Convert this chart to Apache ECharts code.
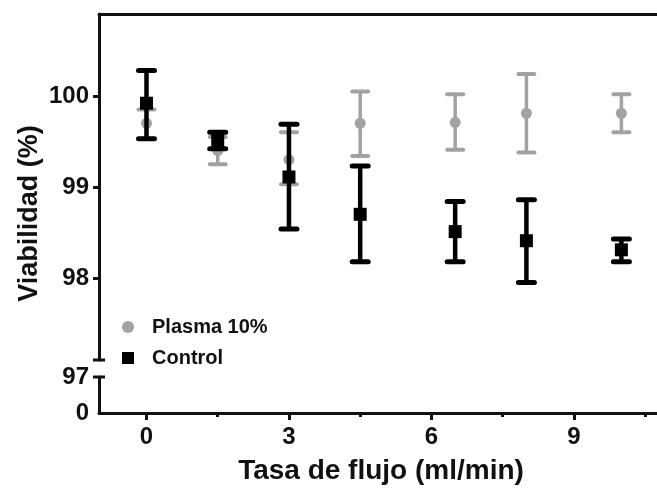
<!DOCTYPE html>
<html><head><meta charset="utf-8">
<script src="https://cdn.jsdelivr.net/npm/echarts@6/dist/echarts.min.js"></script>
<style>html,body{margin:0;padding:0;background:#fff}#c{width:657px;height:489px}</style>
</head><body><div id="c"></div>
<script>
const flowRates   = [0, 1.5, 3, 4.5, 6.5, 8, 10];
const plasmaMean  = [99.70, 99.40, 99.30, 99.70, 99.71, 99.81, 99.81];
const plasmaLow   = [99.53, 99.25, 99.03, 99.34, 99.41, 99.38, 99.60];
const plasmaHigh  = [99.85, 99.55, 99.60, 100.05, 100.02, 100.24, 100.02];
const controlMean = [99.92, 99.51, 99.11, 98.70, 98.51, 98.41, 98.31];
const controlLow  = [99.53, 99.42, 98.54, 98.18, 98.18, 97.95, 98.18];
const controlHigh = [100.28, 99.60, 99.69, 99.23, 98.84, 98.86, 98.43];
const xTicks      = [0, 3, 6, 9];
const xMinorTicks = [1.5, 4.5, 7.5, 10.5];
const yTicksUpper = [98, 99, 100];
const yTicksLower = [0, 97];
const seriesNames = ['Plasma 10%', 'Control'];
const xTitle = 'Tasa de flujo (ml/min)';
const yTitle = 'Viabilidad (%)';

const FONT = '"Liberation Sans", Arial, sans-serif';
const INK = '#111';
const GREY = '#a2a2a2';
const XMIN = -1, XMAX = 10.75;

function errorRender(color, lw, capW, capLw) {
  return function (params, api) {
    const x = api.value(0), lo = api.value(1), hi = api.value(2);
    const pLo = api.coord([x, lo]), pHi = api.coord([x, hi]);
    return {
      type: 'group',
      children: [
        {type: 'line', shape: {x1: pLo[0], y1: pLo[1], x2: pHi[0], y2: pHi[1]}, style: {stroke: color, lineWidth: lw}},
        {type: 'line', shape: {x1: pLo[0] - capW, y1: pLo[1], x2: pLo[0] + capW, y2: pLo[1]}, style: {stroke: color, lineWidth: capLw, lineCap: 'round'}},
        {type: 'line', shape: {x1: pHi[0] - capW, y1: pHi[1], x2: pHi[0] + capW, y2: pHi[1]}, style: {stroke: color, lineWidth: capLw, lineCap: 'round'}}
      ]
    };
  };
}

const chart = echarts.init(document.getElementById('c'), null, {renderer: 'canvas'});
const axisLineStyle = {color: INK, width: 3};
const labelStyle = {color: INK, fontFamily: FONT, fontWeight: 'bold', fontSize: 24};

const option = {
  animation: false,
  backgroundColor: '#fff',
  grid: [
    {left: 99, right: 0, top: 14, height: 346},
    {left: 99, right: 0, top: 377, height: 36}
  ],
  xAxis: [
    {type: 'value', gridIndex: 0, min: XMIN, max: XMAX, position: 'top',
     axisLine: {show: true, onZero: false, lineStyle: axisLineStyle},
     axisTick: {show: false}, axisLabel: {show: false}, splitLine: {show: false}},
    {type: 'value', gridIndex: 1, min: XMIN, max: XMAX, position: 'bottom',
     name: xTitle, nameLocation: 'middle', nameGap: 44,
     nameTextStyle: {color: INK, fontFamily: FONT, fontWeight: 'bold', fontSize: 28, padding: [0, 0, 0, 6]},
     axisLine: {show: true, onZero: false, lineStyle: axisLineStyle},
     axisTick: {show: true, customValues: xTicks, length: 7, lineStyle: {color: INK, width: 3}},
     axisLabel: Object.assign({customValues: xTicks, margin: 12}, labelStyle),
     splitLine: {show: false}},
    {type: 'value', gridIndex: 1, min: XMIN, max: XMAX, position: 'bottom',
     axisLine: {show: false},
     axisTick: {show: true, customValues: xMinorTicks, length: 4, lineStyle: {color: INK, width: 3}},
     axisLabel: {show: false}, splitLine: {show: false}}
  ],
  yAxis: [
    {type: 'value', gridIndex: 0, min: 97.1, max: 100.9,
     axisLine: {show: true, onZero: false, lineStyle: axisLineStyle},
     axisTick: {show: true, customValues: yTicksUpper, length: 6, lineStyle: {color: INK, width: 3}},
     axisLabel: Object.assign({customValues: yTicksUpper, margin: 10}, labelStyle),
     splitLine: {show: false}},
    {type: 'value', gridIndex: 1, min: 0, max: 97,
     axisLine: {show: true, onZero: false, lineStyle: axisLineStyle},
     axisTick: {show: false},
     axisLabel: Object.assign({customValues: yTicksLower, margin: 10}, labelStyle),
     splitLine: {show: false}}
  ],
  legend: {
    orient: 'vertical', left: 117, top: 312, itemGap: 11,
    itemWidth: 38, itemHeight: 12,
    textStyle: {color: INK, fontFamily: FONT, fontWeight: 'bold', fontSize: 20},
    data: [
      {name: seriesNames[0], icon: 'circle'},
      {name: seriesNames[1], icon: 'path://M0,0H10V10H0Z'}
    ]
  },
  series: [
    {type: 'custom', name: 'plasmaErr', xAxisIndex: 0, yAxisIndex: 0, z: 2,
     renderItem: errorRender(GREY, 3.5, 8, 4),
     encode: {x: 0, y: [1, 2]},
     data: flowRates.map((x, i) => [x, plasmaLow[i], plasmaHigh[i]])},
    {type: 'scatter', name: seriesNames[0], xAxisIndex: 0, yAxisIndex: 0, z: 3,
     symbol: 'circle', symbolSize: 11, itemStyle: {color: GREY, opacity: 1},
     data: flowRates.map((x, i) => [x, plasmaMean[i]])},
    {type: 'custom', name: 'controlErr', xAxisIndex: 0, yAxisIndex: 0, z: 4,
     renderItem: errorRender('#000', 4.5, 8, 5),
     encode: {x: 0, y: [1, 2]},
     data: flowRates.map((x, i) => [x, controlLow[i], controlHigh[i]])},
    {type: 'scatter', name: seriesNames[1], xAxisIndex: 0, yAxisIndex: 0, z: 5,
     symbol: 'rect', symbolSize: 13, itemStyle: {color: '#000', opacity: 1},
     data: flowRates.map((x, i) => [x, controlMean[i]])}
  ]
};
chart.setOption(option);

const axX = chart.convertToPixel({xAxisIndex: 1}, XMIN);
const yBreakTop = chart.convertToPixel({yAxisIndex: 0}, 97.1);
const yBreakBot = chart.convertToPixel({yAxisIndex: 1}, 97);
const yTop = chart.convertToPixel({yAxisIndex: 0}, 100.9);
const yBottom = chart.convertToPixel({yAxisIndex: 1}, 0);
chart.setOption({
  graphic: [
    {type: 'line', shape: {x1: axX - 6, y1: yBreakTop, x2: axX + 6, y2: yBreakTop}, style: {stroke: INK, lineWidth: 3}},
    {type: 'line', shape: {x1: axX - 6, y1: yBreakBot, x2: axX + 6, y2: yBreakBot}, style: {stroke: INK, lineWidth: 3}},
    {type: 'text', x: 30, y: (yTop + yBottom) / 2, rotation: Math.PI / 2,
     style: {text: yTitle, fill: INK, font: 'bold 27px ' + FONT, align: 'center', verticalAlign: 'middle'}}
  ]
});
</script></body></html>
